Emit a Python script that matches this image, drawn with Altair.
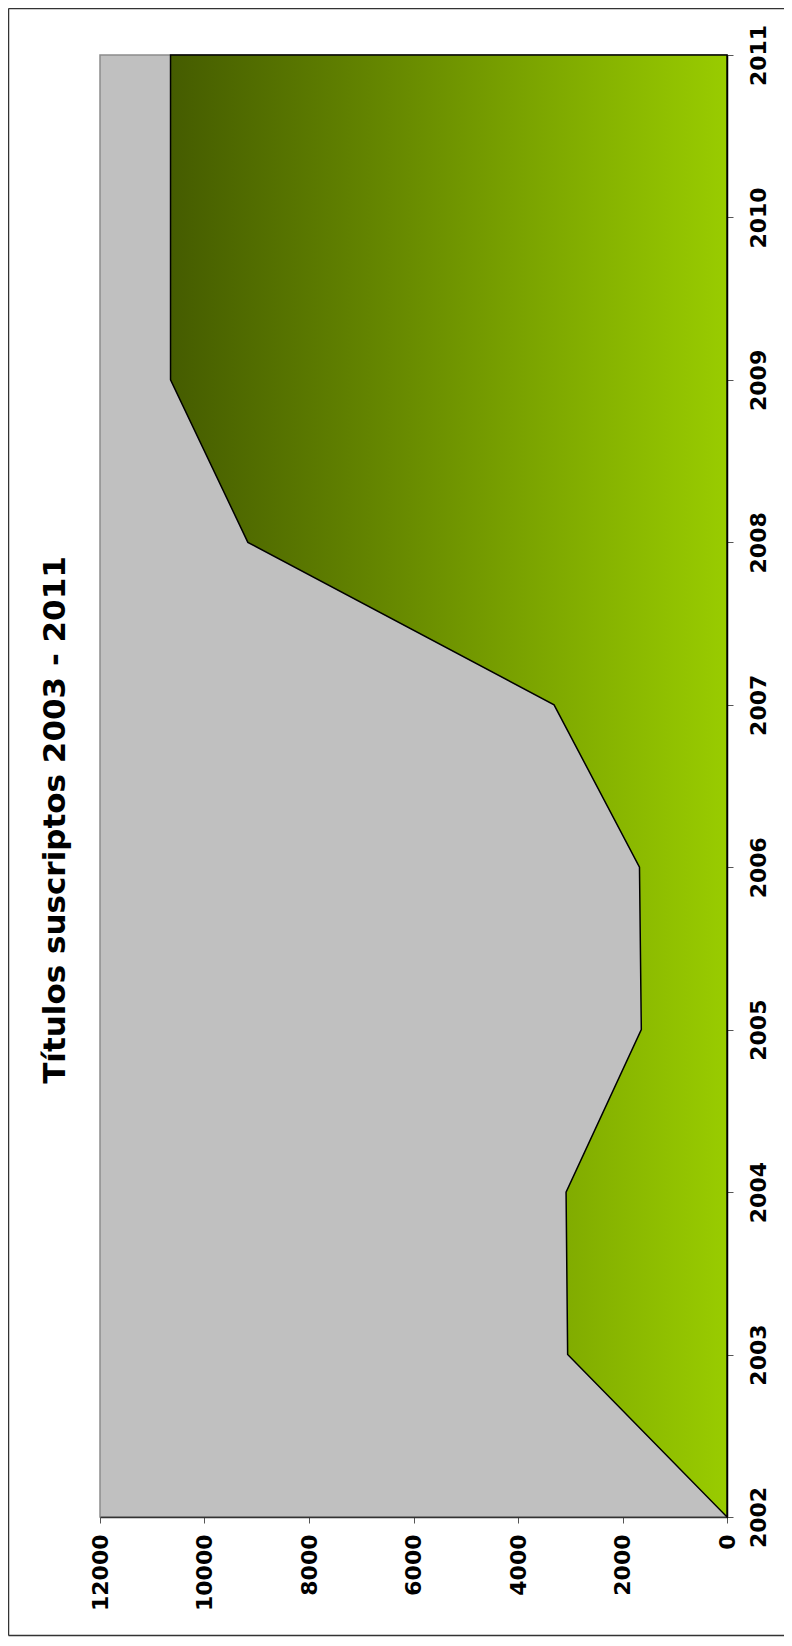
import altair as alt
import pandas as pd

years = [2002, 2003, 2004, 2005, 2006, 2007, 2008, 2009, 2010, 2011]
titulos = [0, 3050, 3080, 1640, 1675, 3310, 9170, 10650, 10650, 10650]
value_ticks = [0, 2000, 4000, 6000, 8000, 10000, 12000]
title_text = ["Títulos suscriptos 2003 - 2011"]

df = pd.DataFrame({"year": years, "titulos": titulos})

W, H = 627, 1462
PL, PT, PR, PB = 92, 47, 57, 121
FONT = "DejaVu Sans"

area = alt.Chart(df).mark_area(
    orient="horizontal",
    stroke="black",
    strokeWidth=1.5,
    strokeJoin="miter",
    color=alt.Gradient(
        gradient="linear",
        stops=[alt.GradientStop(color="#455c00", offset=0),
               alt.GradientStop(color="#99cc00", offset=1)],
        x1=0, x2=1, y1=0, y2=0,
    ),
).encode(
    x=alt.X(
        "titulos:Q",
        scale=alt.Scale(domain=[0, 12000], reverse=True, nice=False),
        axis=alt.Axis(
            values=value_ticks, format="d", title=None, grid=False,
            labelAngle=270, labelAlign="right", labelBaseline="middle",
            labelFont=FONT, labelFontSize=22, labelFontWeight="bold", labelColor="black",
            labelPadding=11, labelFlush=False, labelOverlap=False,
            tickSize=6, tickColor="#555555", domainColor="#333333", domainWidth=1.5,
        ),
    ),
    y=alt.Y(
        "year:Q",
        scale=alt.Scale(domain=[2002, 2011], nice=False, zero=False),
        axis=alt.Axis(
            orient="right", values=years, format="d", title=None, grid=False,
            labelAngle=270, labelAlign="center", labelBaseline="top",
            labelFont=FONT, labelFontSize=22, labelFontWeight="bold", labelColor="black",
            labelPadding=15, labelFlush=False, labelOverlap=False,
            tickSize=6, tickColor="#555555", domainColor="black", domainWidth=1.5,
        ),
    ),
)

title_df = pd.DataFrame({"t": title_text})
title_mark = alt.Chart(title_df).mark_text(
    angle=270, align="center", baseline="alphabetic",
    font=FONT, fontSize=31, fontWeight="bold", color="black",
).encode(
    text="t:N", x=alt.value(-35), y=alt.value(765)
)

frame_df = pd.DataFrame({"k": [0]})
left_line = alt.Chart(frame_df).mark_rule(color="#333333", strokeWidth=1.5).encode(
    x=alt.value(-PL + 0.5), y=alt.value(-PT + 0.5), y2=alt.value(H + PB - 2.5)
)
top_line = alt.Chart(frame_df).mark_rule(color="#333333", strokeWidth=1.5).encode(
    x=alt.value(-PL + 0.5), x2=alt.value(W + PR), y=alt.value(-PT + 0.5)
)
bottom_line = alt.Chart(frame_df).mark_rule(color="#333333", strokeWidth=1.5).encode(
    x=alt.value(-PL + 0.5), x2=alt.value(W + PR), y=alt.value(H + PB - 2.5)
)

chart = alt.layer(area, title_mark, left_line, top_line, bottom_line).properties(
    width=W,
    height=H,
    autosize=alt.AutoSizeParams(type="none"),
    padding={"left": PL, "top": PT, "right": PR, "bottom": PB},
    background="white",
).configure_view(
    fill="#c0c0c0", stroke="#8c8c8c", strokeWidth=1.5
)

chart.save("out.html", embed_options={"renderer": "svg", "actions": False})
